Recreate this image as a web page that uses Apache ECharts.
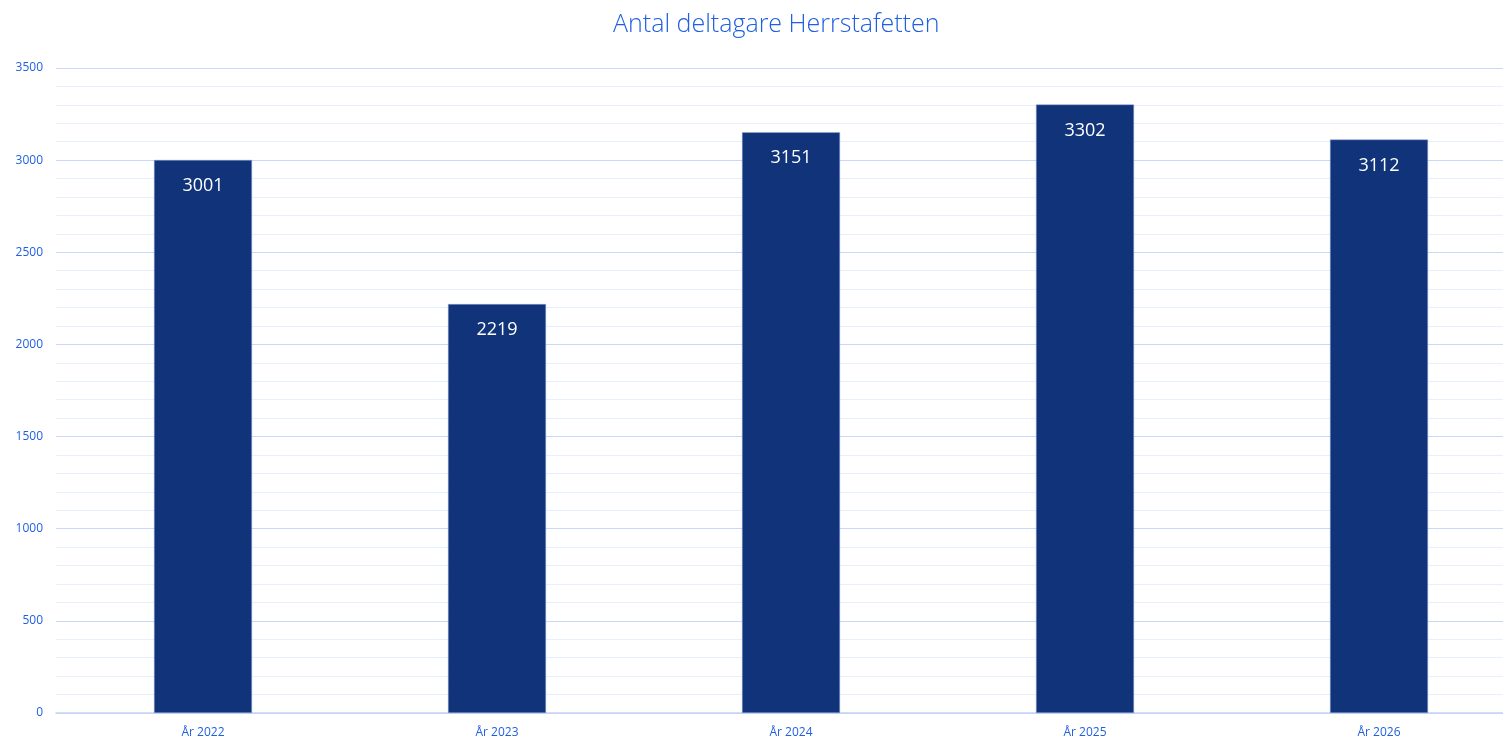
<!DOCTYPE html>
<html>
<head>
<meta charset="utf-8">
<script src="https://cdn.jsdelivr.net/npm/echarts@6/dist/echarts.min.js"></script>
<style>
  html, body { margin: 0; padding: 0; background: #fff; overflow: hidden; }
  /* plot area runs a little past the right edge of the window, like the original */
  #chart { width: 1526px; height: 740px; }
</style>
</head>
<body>
<div id="chart"></div>
<script>
// data
const years = ['År 2022', 'År 2023', 'År 2024', 'År 2025', 'År 2026'];
const deltagare = [3001, 2219, 3151, 3302, 3112];

const blue = '#1f5fe0';
const font = '"Open Sans", "Noto Sans", sans-serif';

const chart = echarts.init(document.getElementById('chart'));
chart.setOption({
  animation: false,
  title: {
    text: 'Antal deltagare Herrstafetten',
    left: 608,
    top: 7,
    textStyle: { color: blue, fontSize: 25, fontWeight: 300, fontFamily: font }
  },
  grid: { left: 56, right: 0, top: 68, bottom: 27 },
  xAxis: {
    type: 'category',
    data: years,
    axisLine: { lineStyle: { color: '#c3d4f5', width: 1.5 } },
    axisTick: { show: false },
    axisLabel: { color: blue, fontSize: 12, fontFamily: font, margin: 14 }
  },
  yAxis: {
    type: 'value',
    min: 0,
    max: 3500,
    interval: 500,
    axisLine: { show: false },
    axisTick: { show: false },
    axisLabel: { color: blue, fontSize: 12, fontFamily: font, margin: 13, formatter: v => String(v) },
    splitLine: { lineStyle: { color: '#c8d8f7', width: 1.2 } },
    minorTick: { show: false, splitNumber: 5 },
    minorSplitLine: { show: true, lineStyle: { color: '#e7eefc', width: 1.2 } }
  },
  series: [{
    type: 'bar',
    data: deltagare,
    barWidth: 98,
    itemStyle: { color: '#10337a', borderColor: '#8fa6d6', borderWidth: 0.5 },
    label: {
      show: true,
      position: 'insideTop',
      distance: 17,
      color: '#fff',
      fontSize: 18,
      fontFamily: font
    }
  }]
});
</script>
</body>
</html>
